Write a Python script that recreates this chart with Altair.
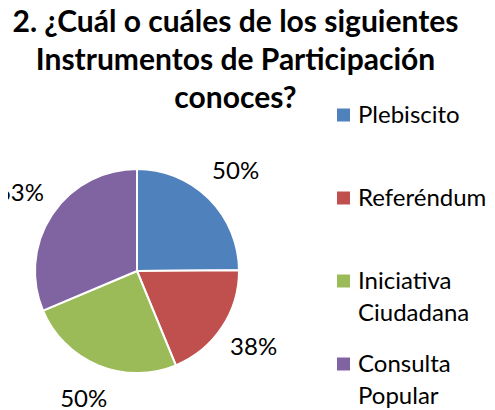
import altair as alt
import pandas as pd

categories = ["Plebiscito", "Referéndum", "Iniciativa Ciudadana", "Consulta Popular"]
values = [50, 38, 50, 63]
labels = ["50%", "38%", "50%", "63%"]
colors = ["#4F81BD", "#C0504D", "#9BBB59", "#8064A2"]
title_lines = ["2. ¿Cuál o cuáles de los siguientes", "Instrumentos de Participación", "conoces?"]

df = pd.DataFrame({"cat": categories, "val": values, "lab": labels, "idx": list(range(len(categories)))})

FONT = "Lato"
CX, CY = 129, 159

color = alt.Color("cat:N", scale=alt.Scale(domain=categories, range=colors), legend=None)
base = alt.Chart(df)

pie = base.mark_arc(outerRadius=102, stroke="white", strokeWidth=2).encode(
    theta=alt.Theta("val:Q", stack=True),
    order=alt.Order("idx:Q"),
    color=color,
    x=alt.value(CX), y=alt.value(CY),
)

lbl = base.mark_text(radius=140, fontSize=24, font=FONT, color="black").encode(
    theta=alt.Theta("val:Q", stack=True),
    order=alt.Order("idx:Q"),
    text="lab:N",
    x=alt.value(CX), y=alt.value(CY),
)

yleg = alt.Y("cat:N", sort=categories, scale=alt.Scale(range=[3, 252], padding=0), axis=None)

leg_sq = base.mark_square(size=169, opacity=1).encode(
    y=yleg, x=alt.value(335.5), color=color,
)
leg_tx = base.mark_text(align="left", baseline="alphabetic", dy=8, fontSize=24, font=FONT,
                        lineBreak=" ", lineHeight=32, color="black").encode(
    y=yleg, x=alt.value(350), text="cat:N",
)

chart = alt.layer(pie, lbl, leg_sq, leg_tx).properties(
    width=479, height=298,
    autosize="none",
    padding={"left": 0, "top": 104, "right": 0, "bottom": 0},
    title=alt.Title(title_lines, font=FONT, fontSize=30, fontWeight="bold", lineHeight=38,
                    anchor="middle", dx=-12, dy=10, offset=0, color="black"),
).configure_view(stroke=None)

chart.save("out.html", embed_options={"renderer": "svg", "actions": False})
